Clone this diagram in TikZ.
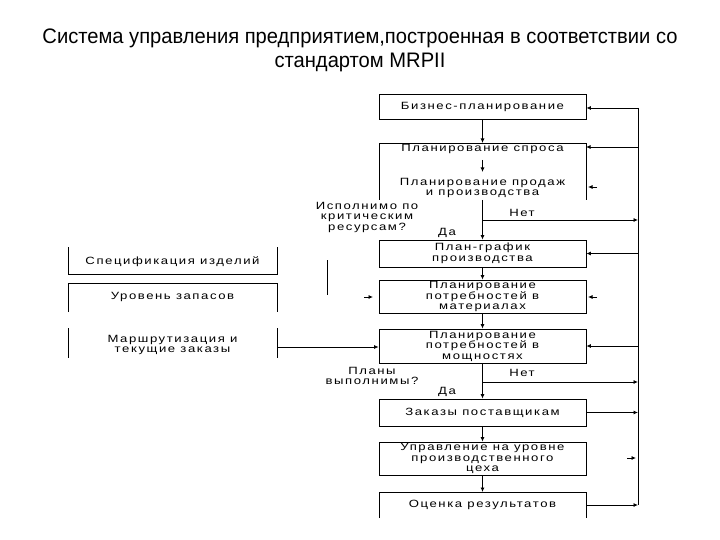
\documentclass[tikz,border=0pt]{standalone}
\usepackage{fontspec}
\setmainfont{Liberation Sans}
\newfontfamily\wide[FakeStretch=1.25, LetterSpace=15]{Liberation Sans}
\usetikzlibrary{arrows.meta}
\tikzset{
  lbl/.style={font=\wide\fontsize{10.5}{10.5}\selectfont, align=center, inner sep=0pt},
  mbox/.style={draw, line width=0.8pt, minimum width=207pt, inner sep=0pt, font=\wide\fontsize{10.5}{10.5}\selectfont, align=center},
  ln/.style={line width=0.8pt},
  arr/.style={line width=0.8pt, -{Latex[length=4.5pt,width=4pt]}},
}
\begin{document}
\begin{tikzpicture}[x=1pt,y=-1pt]
\useasboundingbox (0,0) rectangle (720,540);
% title
\node[font=\fontsize{21}{24}\selectfont, align=center, inner sep=0pt] (title) at (360,50)
  {\scalebox{0.96}[1]{Система управления предприятием,построенная в соответствии со}\\
   \scalebox{0.96}[1]{стандартом MRPII}};
% right bus
\coordinate (bt) at (638,108);
\coordinate (bb) at (638,505);
\draw[ln] (bt) -- (bb);
% main column
\node[mbox, minimum height=25pt] (b1) at (482.5,106.5) {Бизнес-планирование};
\node[lbl] (b2) at (482.5,149) {Планирование спроса};
\coordinate (b2t) at (482.5,143);
\draw[ln] (379,200) -- (379,143) -- (586,143) -- (586,200);
\node[lbl] (b3) at (482.5,188) {Планирование продаж\\и производства};
\node[mbox, minimum height=27pt] (b4) at (482.5,253.5) {План-график\\производства};
\node[mbox, minimum height=33pt] (b5) at (482.5,296.5) {Планирование\\потребностей в\\материалах};
\node[mbox, minimum height=34pt] (b6) at (482.5,346) {Планирование\\потребностей в\\мощностях};
\node[mbox, minimum height=27pt] (b7) at (482.5,412.5) {Заказы поставщикам};
\node[mbox, minimum height=33pt] (b8) at (482.5,458.5) {Управление на уровне\\производственного\\цеха};
\node[lbl] (b9) at (482.5,505) {Оценка результатов};
\draw[ln] (379,518) -- (379,492) -- (586,492) -- (586,518);
% vertical flow
\draw[arr] (b1) -- (b2t);
\draw[arr] (482.5,160) -- (482.5,172);
\coordinate (j1) at (482.5,220);
\draw[arr] (482.5,200) -- (b4.north);
\draw[arr] (b4) -- (b5);
\draw[arr] (b5) -- (b6);
\coordinate (j2) at (482.5,382);
\draw[arr] (b6) -- (b7);
\draw[arr] (b7) -- (b8);
\draw[arr] (b8) -- (482.5,492);
% decisions
\node[lbl] (q1) at (367,217) {Исполнимо по\\критическим\\ресурсам?};
\node[lbl] (no1) at (522,213) {Нет};
\node[lbl] (yes1) at (447,233) {Да};
\draw[arr] (j1) -- (bb |- j1);
\node[lbl] (q2) at (372,376) {Планы\\выполнимы?};
\node[lbl] (no2) at (522,373) {Нет};
\node[lbl] (yes2) at (447,392) {Да};
\draw[arr] (j2) -- (bb |- j2);
% feedback into upper boxes
\draw[arr] (bt) -- (b1.east |- bt);
\draw[arr] (638,147) -- (586,147);
\draw[arr] (597,187) -- (588,187);
\draw[arr] (bt |- b4) -- (b4.east);
\draw[arr] (597,297) -- (588,297);
\draw[arr] (bt |- b6) -- (b6.east);
% lower boxes into bus
\draw[arr] (b7.east) -- (bt |- b7);
\draw[arr] (627,458) -- (636,458);
\draw[arr] (586,505) -- (638,505);
% left side
\node[lbl] (s1) at (172.5,262) {Спецификация изделий};
\draw[ln] (68,247) -- (68,274) -- (277,274) -- (277,247);
\node[lbl] (s2) at (172.5,297) {Уровень запасов};
\draw[ln] (68,312) -- (68,283) -- (277,283) -- (277,312);
\node[lbl] (s3) at (172.5,345) {Маршрутизация и\\текущие заказы};
\draw[ln] (68,328) -- (68,358);
\draw[ln] (277,328) -- (277,358);
\coordinate (s3e) at (277,347);
\draw[arr] (s3e) -- (b6.west |- s3e);
\draw[arr] (364,297) -- (373,297);
\draw[ln] (327,260) -- (327,295);
\end{tikzpicture}
\end{document}
